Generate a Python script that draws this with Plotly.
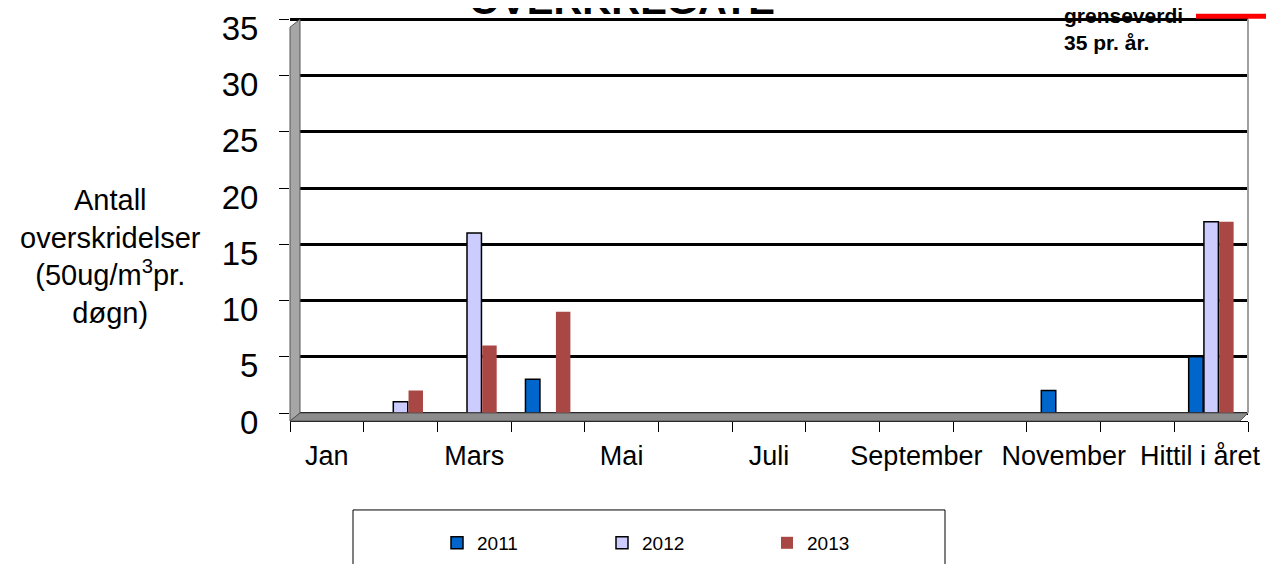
import plotly.graph_objects as go

# months (Excel skipped every other label on the axis)
months = ["Jan", "Februar", "Mars", "April", "Mai", "Juni", "Juli", "August",
          "September", "Oktober", "November", "Desember", "Hittil i året"]
v2011 = [0, 0, 0, 3, 0, 0, 0, 0, 0, 0, 2, 0, 5]
v2012 = [0, 1, 16, 0, 0, 0, 0, 0, 0, 0, 0, 0, 17]
v2013 = [0, 2, 6, 9, 0, 0, 0, 0, 0, None, None, None, 17]
shown_labels = [m if i % 2 == 0 else "" for i, m in enumerate(months)]
# last label sits a bit to the left of its slot, like Excel does near the edge
shown_labels[-1] = shown_labels[-1] + "&nbsp;&nbsp;&nbsp;"

W, H = 1274, 564
OFF = 8  # page body margin
YMIN, YMAX = -0.71, 35.2
PXU = 394 / 35  # pixels per unit (0 at y=413, 35 at y=19)
L, R = 290, 1248
T, B = 413 - YMAX * PXU, 413 - YMIN * PXU  # plot area in page pixels


def xp(px):
    return (px - L) / (R - L)


def yp(py):
    return (B - py) / (B - T)


fig = go.Figure()
fig.add_bar(x=months, y=v2011, name="2011",
            marker=dict(color="#0066CC", line=dict(color="black", width=1.5)))
fig.add_bar(x=months, y=v2012, name="2012",
            marker=dict(color="#CCCCFF", line=dict(color="black", width=1.5)))
fig.add_bar(x=months, y=v2013, name="2013",
            marker=dict(color="#A94744", line=dict(width=0)))

shapes = [
    # left wall
    dict(type="path", xref="paper", yref="paper", layer="above",
         path=f"M {xp(290)},{yp(421)} L {xp(290)},{yp(27)} L {xp(300)},{yp(19)} L {xp(300)},{yp(413)} Z",
         fillcolor="#A6A6A6", line=dict(color="#555555", width=1)),
    # floor
    dict(type="path", xref="paper", yref="paper", layer="above",
         path=f"M {xp(290)},{yp(421)} L {xp(300)},{yp(413)} L {xp(1248)},{yp(413)} L {xp(1240)},{yp(421)} Z",
         fillcolor="#8C8C8C", line=dict(color="#555555", width=1)),
    # right edge of back wall
    dict(type="line", xref="paper", yref="paper", x0=xp(1248), x1=xp(1248),
         y0=yp(19), y1=yp(413), line=dict(color="#A0A0A0", width=2)),
    # limit marker
    dict(type="line", xref="paper", yref="paper", x0=xp(1196), x1=xp(1280),
         y0=yp(16), y1=yp(16), line=dict(color="#FF0000", width=5)),
    # legend frame
    dict(type="rect", xref="paper", yref="paper", x0=xp(353), x1=xp(945),
         y0=yp(510), y1=yp(580), line=dict(color="black", width=1)),
]

annotations = [
    dict(text="Antall<br>overskridelser<br>(50ug/m<sup>3</sup>pr.<br>døgn)",
         xref="paper", yref="paper", x=xp(110), y=yp(256), showarrow=False,
         xanchor="center", yanchor="middle", align="center",
         font=dict(size=29, color="black")),
    dict(text="<b>grenseverdi<br>35 pr. år.</b>", xref="paper", yref="paper",
         x=xp(1062), y=yp(2), showarrow=False, xanchor="left", yanchor="top",
         align="left", font=dict(size=21, color="black")),
    dict(text="<b>OVERKREGATE</b>", xref="paper", yref="paper",
         x=xp(622), y=yp(24), showarrow=False, xanchor="center", yanchor="bottom",
         font=dict(size=40, color="black")),
]

fig.update_layout(
    width=W, height=H,
    margin=dict(l=L - OFF, r=W - R + OFF, t=T - OFF, b=H - B + OFF, autoexpand=False),
    paper_bgcolor="white", plot_bgcolor="white",
    font=dict(family="Liberation Sans, Arial, sans-serif", color="black"),
    barmode="group", bargap=0.38, bargroupgap=0.05,
    showlegend=True,
    legend=dict(orientation="h", x=xp(437), xanchor="left", y=yp(524), yanchor="top",
                entrywidth=120, entrywidthmode="pixels", font=dict(size=19),
                bgcolor="rgba(0,0,0,0)", traceorder="normal"),
    shapes=shapes, annotations=annotations,
)
fig.update_xaxes(type="category", tickmode="array", tickvals=months, ticktext=shown_labels,
                 tickson="boundaries", ticks="outside", ticklen=10, tickcolor="black",
                 showline=True, linecolor="black", linewidth=1, showgrid=False,
                 tickangle=0, automargin=False, ticklabeloverflow="allow",
                 tickfont=dict(size=27), ticklabelstandoff=11)
fig.update_yaxes(range=[YMIN, YMAX], tickvals=[0, 5, 10, 15, 20, 25, 30, 35],
                 showgrid=True, gridcolor="black", gridwidth=2.5, zeroline=False,
                 ticks="outside", ticklen=10, tickcolor="black", automargin=False,
                 ticklabeloverflow="allow", ticklabelshift=9,
                 tickfont=dict(size=33), ticklabelstandoff=14)

fig.write_html("out.html")
